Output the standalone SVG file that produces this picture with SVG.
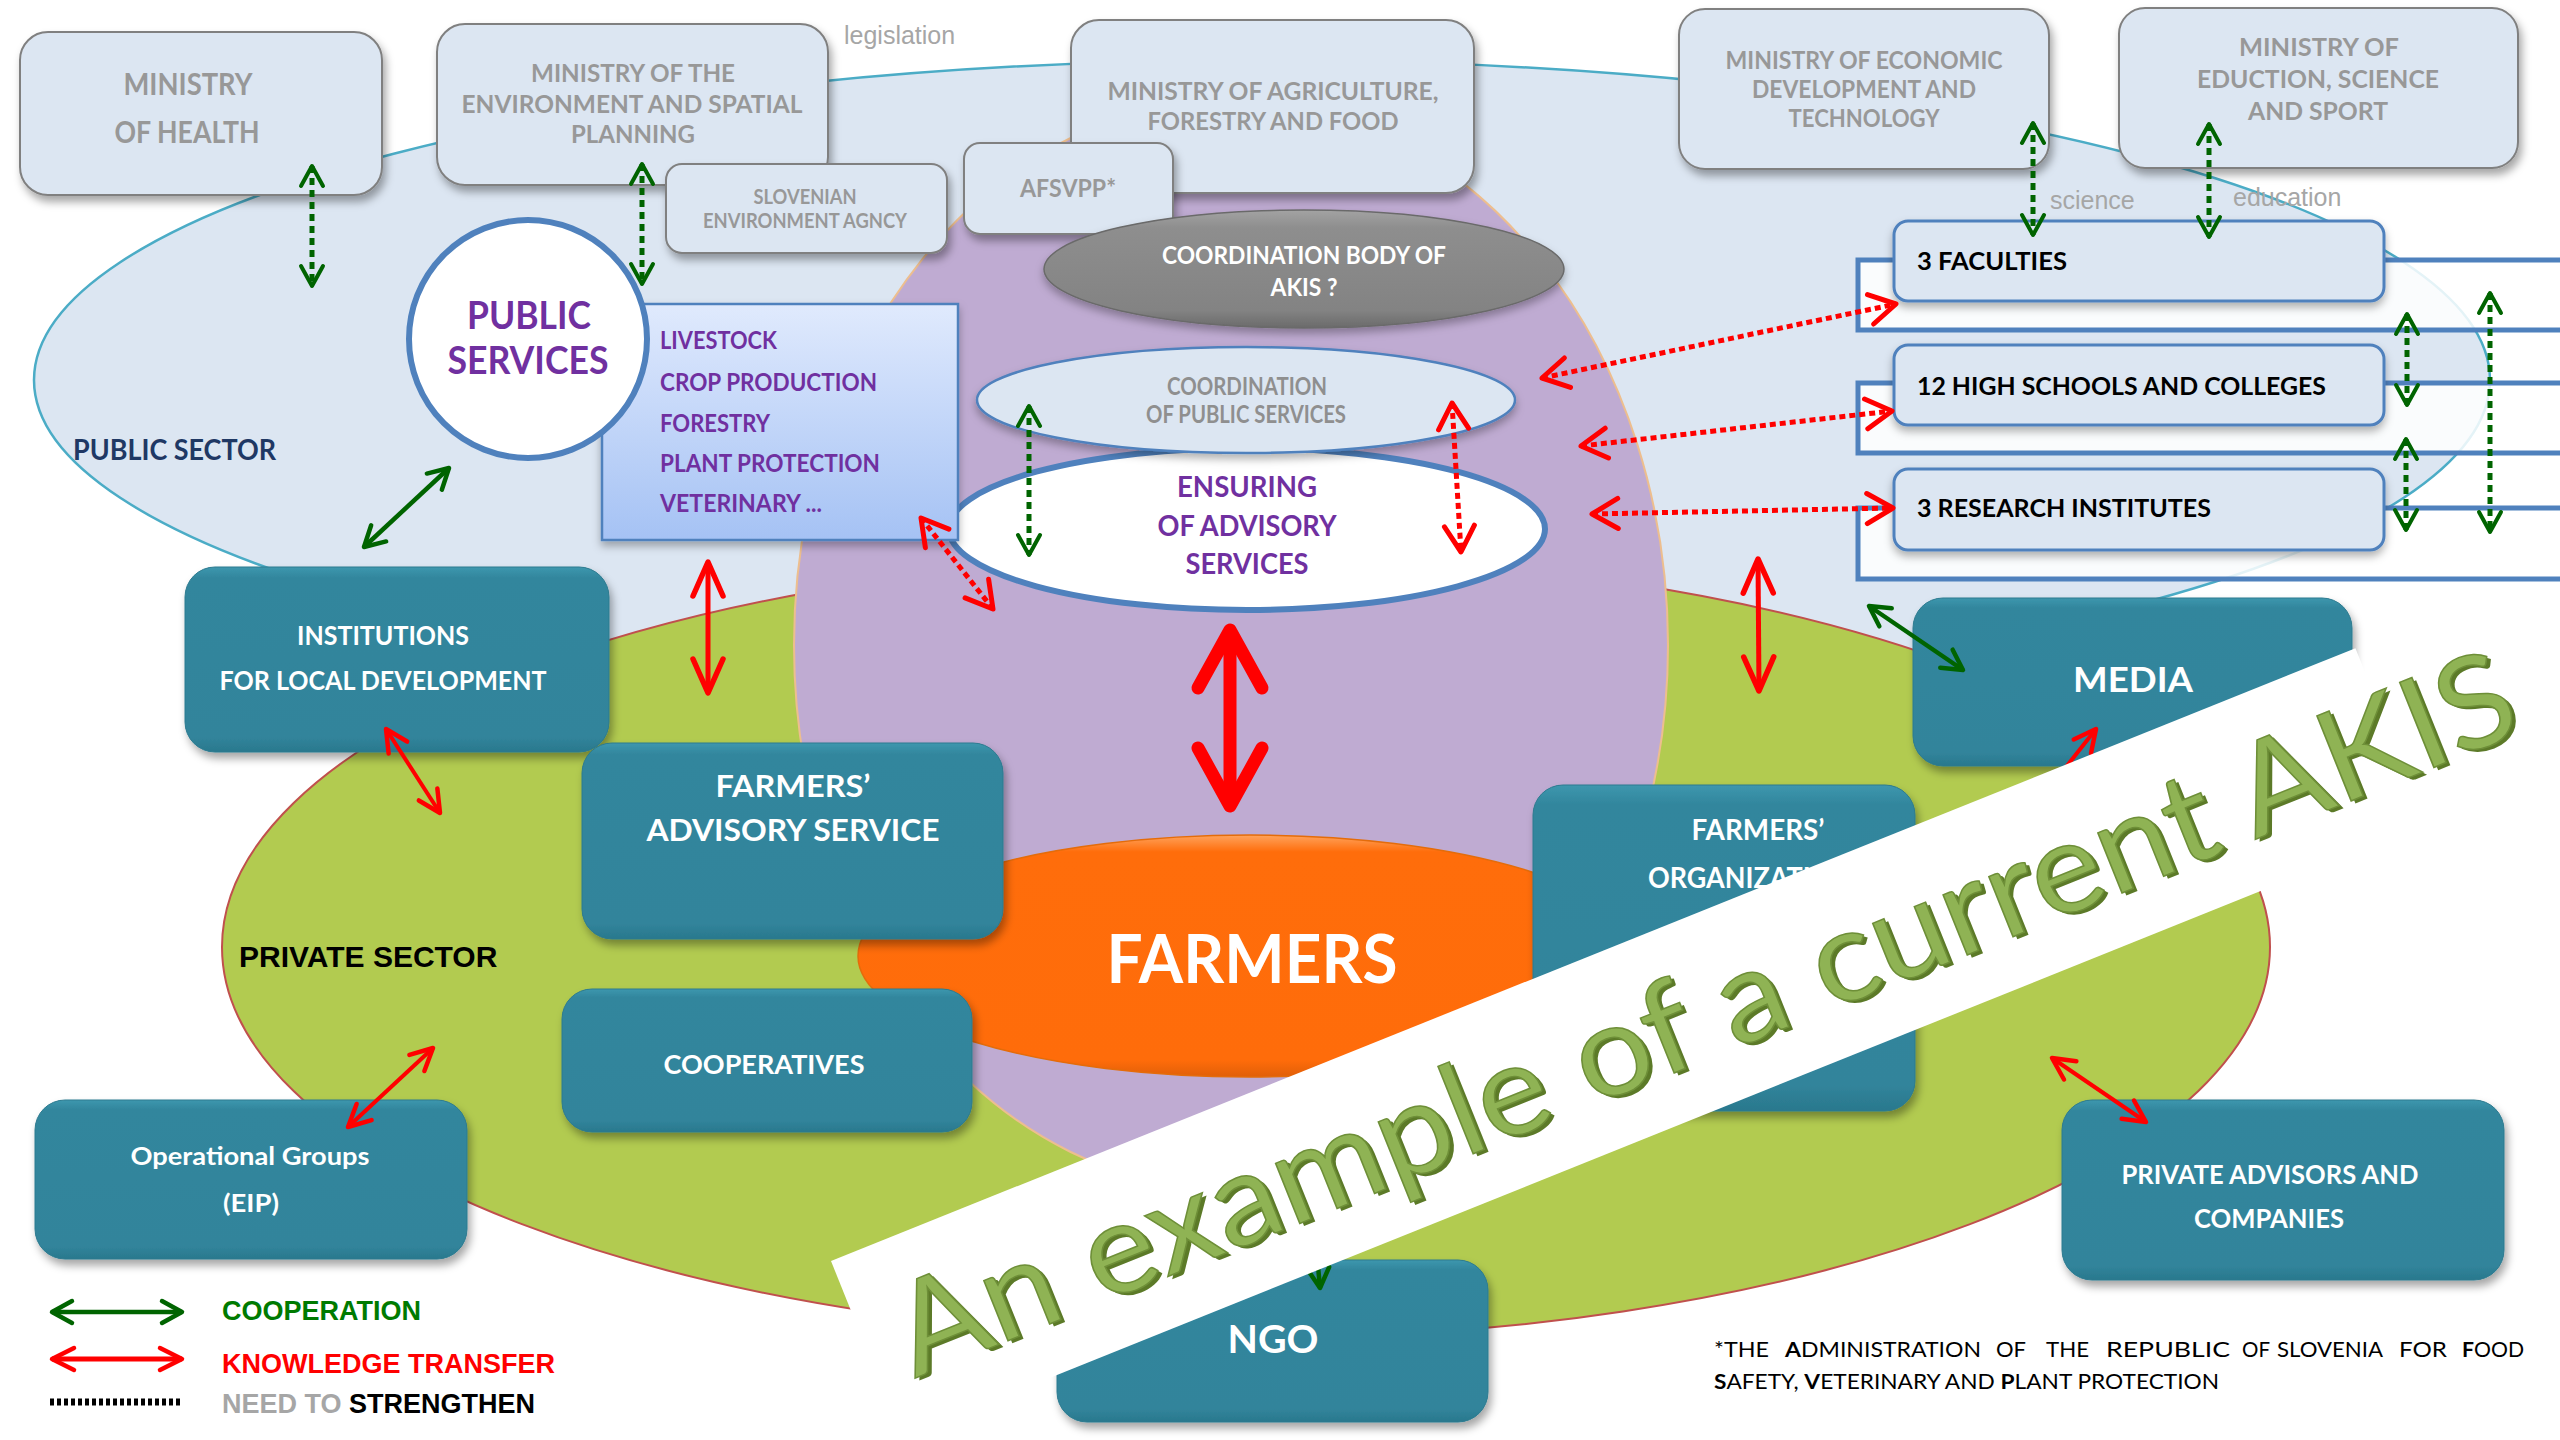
<svg xmlns="http://www.w3.org/2000/svg" width="2560" height="1440" viewBox="0 0 2560 1440">
<defs>
<style>
.cal{font-family:Lato,'Open Sans','Liberation Sans',sans-serif;font-weight:700}
.mt{fill:#989898;text-anchor:middle}
.wt{fill:#ffffff;text-anchor:middle}
.pt{fill:#7030A0}
.min{fill:#DCE6F2;stroke:#808080;stroke-width:2}
.tl{fill:url(#tealG);stroke:#2C7A8F;stroke-width:1}
.lbl{font-family:'Liberation Sans',Arial,sans-serif;fill:#A6A6A6;font-size:25px}
.gd{stroke:#006400;stroke-width:5;stroke-dasharray:7 5;fill:none}
.rd{stroke:#FF0000;stroke-width:5;stroke-dasharray:6 4;fill:none}
.gs{stroke:#006400;stroke-width:4.5;fill:none}
.rs{stroke:#FF0000;stroke-width:5;fill:none}
.rt{stroke:#FF0000;stroke-width:4;fill:none}
.fn{font-family:Lato,'Open Sans',sans-serif;font-weight:400;font-size:21px;fill:#000}
.leg{font-family:'Liberation Sans',Arial,sans-serif;font-weight:700;font-size:27px}
</style>
<filter id="sh" x="-10%" y="-10%" width="125%" height="140%"><feDropShadow dx="3" dy="6" stdDeviation="4" flood-color="#000" flood-opacity="0.35"/></filter>
<filter id="sh2" x="-10%" y="-10%" width="125%" height="140%"><feDropShadow dx="0" dy="5" stdDeviation="4" flood-color="#000" flood-opacity="0.3"/></filter>
<linearGradient id="tealG" x1="0" y1="0" x2="0" y2="1"><stop offset="0" stop-color="#3D97AE"/><stop offset="0.06" stop-color="#32869D"/><stop offset="0.92" stop-color="#31849B"/><stop offset="1" stop-color="#2A788D"/></linearGradient>
<linearGradient id="svG" x1="0" y1="0" x2="0" y2="1"><stop offset="0" stop-color="#E0EAFD"/><stop offset="1" stop-color="#A5C2F4"/></linearGradient>
<linearGradient id="grG" x1="0" y1="0" x2="0" y2="1"><stop offset="0" stop-color="#A3A3A3"/><stop offset="0.15" stop-color="#8E8E8E"/><stop offset="0.85" stop-color="#838383"/><stop offset="1" stop-color="#6A6A6A"/></linearGradient>
<linearGradient id="orG" x1="0" y1="0" x2="0" y2="1"><stop offset="0" stop-color="#FFA35C"/><stop offset="0.07" stop-color="#FF6D0B"/><stop offset="0.93" stop-color="#FF6C0A"/><stop offset="1" stop-color="#E05F08"/></linearGradient>
<marker id="mG" markerUnits="userSpaceOnUse" viewBox="-30 -20 40 40" markerWidth="40" markerHeight="40" orient="auto-start-reverse" overflow="visible"><path d="M-20,-11 L0,0 L-20,11" fill="none" stroke="#006400" stroke-width="4.5" stroke-linecap="round" stroke-linejoin="round"/></marker>
<marker id="mGd" markerUnits="userSpaceOnUse" viewBox="-30 -20 40 40" markerWidth="40" markerHeight="40" orient="auto-start-reverse" overflow="visible"><path d="M-20,-11 L0,0 L-20,11" fill="none" stroke="#006400" stroke-width="4" stroke-linecap="round" stroke-linejoin="round"/></marker>
<marker id="mR" markerUnits="userSpaceOnUse" viewBox="-40 -20 50 40" markerWidth="50" markerHeight="40" orient="auto-start-reverse" overflow="visible"><path d="M-34,-15 L0,0 L-34,15" fill="none" stroke="#FF0000" stroke-width="5.5" stroke-linecap="round" stroke-linejoin="round"/></marker>
<marker id="mRs" markerUnits="userSpaceOnUse" viewBox="-30 -20 40 40" markerWidth="40" markerHeight="40" orient="auto-start-reverse" overflow="visible"><path d="M-22,-11 L0,0 L-22,11" fill="none" stroke="#FF0000" stroke-width="4.5" stroke-linecap="round" stroke-linejoin="round"/></marker>
<marker id="mRd" markerUnits="userSpaceOnUse" viewBox="-30 -20 40 40" markerWidth="40" markerHeight="40" orient="auto-start-reverse" overflow="visible"><path d="M-26,-15 L0,0 L-26,15" fill="none" stroke="#FF0000" stroke-width="5" stroke-linecap="round" stroke-linejoin="round"/></marker>
<marker id="mRb" markerUnits="userSpaceOnUse" viewBox="-70 -40 80 80" markerWidth="80" markerHeight="80" orient="auto-start-reverse" overflow="visible"><path d="M-58,-32 L0,0 L-58,32" fill="none" stroke="#FF0000" stroke-width="13" stroke-linecap="round" stroke-linejoin="round"/></marker>
</defs>
<rect x="0" y="0" width="2560" height="1440" fill="#ffffff"/>

<g id="public-sector">
<ellipse cx="1262" cy="380" rx="1228" ry="320" fill="#DCE6F2" stroke="#4BACC6" stroke-width="2.5"/>
</g>
<g id="private-sector">
<ellipse cx="1246" cy="947" rx="1024" ry="392" fill="#B2CB50" stroke="#C0504D" stroke-width="2"/>
</g>
<g id="purple-core">
<ellipse cx="1231" cy="645" rx="437" ry="545" fill="#BFABD2" stroke="#EDBE8E" stroke-width="2"/>
</g>
<g id="farmers">
<ellipse cx="1250" cy="956" rx="392" ry="121" fill="url(#orG)" stroke="#E46C0A" stroke-width="1.5"/>
<text class="cal wt" x="1252" y="983" font-size="67" textLength="291" lengthAdjust="spacingAndGlyphs">FARMERS</text>
</g>

<g id="faculties">
<rect x="1858" y="260" width="720" height="70" fill="#ffffff" fill-opacity="0.85" stroke="#4F81BD" stroke-width="5"/>
<rect x="1894" y="221" width="490" height="80" rx="14" fill="#DCE6F2" stroke="#4F81BD" stroke-width="3" filter="url(#sh2)"/>
<text class="cal" x="1917" y="270" font-size="25" fill="#000" textLength="150" lengthAdjust="spacingAndGlyphs">3 FACULTIES</text>
</g>
<g id="high-schools">
<rect x="1858" y="383" width="720" height="70" fill="#ffffff" fill-opacity="0.85" stroke="#4F81BD" stroke-width="5"/>
<rect x="1894" y="345" width="490" height="80" rx="14" fill="#DCE6F2" stroke="#4F81BD" stroke-width="3" filter="url(#sh2)"/>
<text class="cal" x="1917" y="395" font-size="25" fill="#000" textLength="409" lengthAdjust="spacingAndGlyphs">12 HIGH SCHOOLS AND COLLEGES</text>
</g>
<g id="research-institutes">
<rect x="1858" y="508" width="720" height="71" fill="#ffffff" fill-opacity="0.85" stroke="#4F81BD" stroke-width="5"/>
<rect x="1894" y="469" width="490" height="81" rx="14" fill="#DCE6F2" stroke="#4F81BD" stroke-width="3" filter="url(#sh2)"/>
<text class="cal" x="1917" y="517" font-size="25" fill="#000" textLength="294" lengthAdjust="spacingAndGlyphs">3 RESEARCH INSTITUTES</text>
</g>

<g id="ministry-health">
<rect class="min" x="20" y="32" width="362" height="163" rx="28" filter="url(#sh)"/>
<text class="cal mt" x="188" y="95" font-size="30" textLength="129" lengthAdjust="spacingAndGlyphs">MINISTRY</text>
<text class="cal mt" x="187" y="143" font-size="30" textLength="145" lengthAdjust="spacingAndGlyphs">OF HEALTH</text>
</g>
<g id="ministry-environment">
<rect class="min" x="437" y="24" width="391" height="161" rx="28" filter="url(#sh)"/>
<text class="cal mt" x="633" y="82" font-size="25" textLength="204" lengthAdjust="spacingAndGlyphs">MINISTRY OF THE</text>
<text class="cal mt" x="632" y="113" font-size="25" textLength="341" lengthAdjust="spacingAndGlyphs">ENVIRONMENT AND SPATIAL</text>
<text class="cal mt" x="633" y="143" font-size="25" textLength="124" lengthAdjust="spacingAndGlyphs">PLANNING</text>
</g>
<g id="environment-agency">
<rect class="min" x="666" y="164" width="281" height="89" rx="16" filter="url(#sh)"/>
<text class="cal mt" x="805" y="204" font-size="21" textLength="103" lengthAdjust="spacingAndGlyphs">SLOVENIAN</text>
<text class="cal mt" x="805" y="228" font-size="21" textLength="204" lengthAdjust="spacingAndGlyphs">ENVIRONMENT AGNCY</text>
</g>
<g id="ministry-agriculture">
<rect class="min" x="1071" y="20" width="403" height="173" rx="28" filter="url(#sh)"/>
<text class="cal mt" x="1273" y="100" font-size="25" textLength="331" lengthAdjust="spacingAndGlyphs">MINISTRY OF AGRICULTURE,</text>
<text class="cal mt" x="1273" y="130" font-size="25" textLength="251" lengthAdjust="spacingAndGlyphs">FORESTRY AND FOOD</text>
</g>
<g id="afsvpp">
<rect class="min" x="964" y="143" width="209" height="91" rx="16" filter="url(#sh)"/>
<text class="cal mt" x="1068" y="197" font-size="24" textLength="96" lengthAdjust="spacingAndGlyphs">AFSVPP*</text>
</g>
<g id="ministry-economic">
<rect class="min" x="1679" y="9" width="370" height="160" rx="26" filter="url(#sh)"/>
<text class="cal mt" x="1864" y="69" font-size="25" textLength="277" lengthAdjust="spacingAndGlyphs">MINISTRY OF ECONOMIC</text>
<text class="cal mt" x="1864" y="98" font-size="25" textLength="224" lengthAdjust="spacingAndGlyphs">DEVELOPMENT AND</text>
<text class="cal mt" x="1864" y="127" font-size="25" textLength="151" lengthAdjust="spacingAndGlyphs">TECHNOLOGY</text>
</g>
<g id="ministry-education">
<rect class="min" x="2119" y="8" width="399" height="160" rx="26" filter="url(#sh)"/>
<text class="cal mt" x="2319" y="56" font-size="25" textLength="160" lengthAdjust="spacingAndGlyphs">MINISTRY OF</text>
<text class="cal mt" x="2318" y="88" font-size="25" textLength="242" lengthAdjust="spacingAndGlyphs">EDUCTION, SCIENCE</text>
<text class="cal mt" x="2318" y="120" font-size="25" textLength="140" lengthAdjust="spacingAndGlyphs">AND SPORT</text>
</g>

<g id="coordination-body">
<ellipse cx="1304" cy="269" rx="260" ry="59" fill="url(#grG)" stroke="#6A6A6A" stroke-width="1.5" filter="url(#sh2)"/>
<text class="cal wt" x="1304" y="264" font-size="24" textLength="284" lengthAdjust="spacingAndGlyphs">COORDINATION BODY OF</text>
<text class="cal wt" x="1304" y="296" font-size="24" textLength="67" lengthAdjust="spacingAndGlyphs">AKIS ?</text>
</g>
<g id="ensuring-advisory">
<ellipse cx="1247" cy="529" rx="298" ry="81" fill="#ffffff" stroke="#4F81BD" stroke-width="6"/>
<text class="cal pt" text-anchor="middle" x="1247" y="497" font-size="28" textLength="140" lengthAdjust="spacingAndGlyphs">ENSURING</text>
<text class="cal pt" text-anchor="middle" x="1247" y="536" font-size="28" textLength="179" lengthAdjust="spacingAndGlyphs">OF ADVISORY</text>
<text class="cal pt" text-anchor="middle" x="1247" y="574" font-size="28" textLength="123" lengthAdjust="spacingAndGlyphs">SERVICES</text>
</g>
<g id="coordination-public">
<ellipse cx="1246" cy="400" rx="269" ry="53" fill="#DCE6F2" stroke="#4F81BD" stroke-width="2.5" filter="url(#sh2)"/>
<text class="cal" text-anchor="middle" fill="#8F8F8F" x="1247" y="395" font-size="24" textLength="160" lengthAdjust="spacingAndGlyphs">COORDINATION</text>
<text class="cal" text-anchor="middle" fill="#8F8F8F" x="1246" y="423" font-size="24" textLength="200" lengthAdjust="spacingAndGlyphs">OF PUBLIC SERVICES</text>
</g>

<g id="services-list">
<rect x="602" y="304" width="356" height="236" fill="url(#svG)" stroke="#4F81BD" stroke-width="2.5" filter="url(#sh2)"/>
<text class="cal pt" x="660" y="349" font-size="25" textLength="117" lengthAdjust="spacingAndGlyphs">LIVESTOCK</text>
<text class="cal pt" x="660" y="391" font-size="25" textLength="217" lengthAdjust="spacingAndGlyphs">CROP PRODUCTION</text>
<text class="cal pt" x="660" y="432" font-size="25" textLength="110" lengthAdjust="spacingAndGlyphs">FORESTRY</text>
<text class="cal pt" x="660" y="472" font-size="25" textLength="220" lengthAdjust="spacingAndGlyphs">PLANT PROTECTION</text>
<text class="cal pt" x="660" y="512" font-size="25" textLength="162" lengthAdjust="spacingAndGlyphs">VETERINARY ...</text>
</g>
<g id="public-services">
<ellipse cx="528" cy="339" rx="119" ry="119" fill="#ffffff" stroke="#4F81BD" stroke-width="6"/>
<text class="cal pt" text-anchor="middle" x="529" y="329" font-size="38" textLength="124" lengthAdjust="spacingAndGlyphs">PUBLIC</text>
<text class="cal pt" text-anchor="middle" x="528" y="374" font-size="38" textLength="161" lengthAdjust="spacingAndGlyphs">SERVICES</text>
</g>

<g id="institutions-local-development">
<rect class="tl" x="185" y="567" width="424" height="185" rx="30" filter="url(#sh)"/>
<text class="cal wt" x="383" y="645" font-size="26" textLength="172" lengthAdjust="spacingAndGlyphs">INSTITUTIONS</text>
<text class="cal wt" x="383" y="690" font-size="26" textLength="327" lengthAdjust="spacingAndGlyphs">FOR LOCAL DEVELOPMENT</text>
</g>
<g id="farmers-advisory-service">
<rect class="tl" x="582" y="743" width="421" height="196" rx="30" filter="url(#sh)"/>
<text class="cal wt" x="793" y="797" font-size="31" textLength="155" lengthAdjust="spacingAndGlyphs">FARMERS’</text>
<text class="cal wt" x="793" y="841" font-size="31" textLength="293" lengthAdjust="spacingAndGlyphs">ADVISORY SERVICE</text>
</g>
<g id="cooperatives">
<rect class="tl" x="562" y="989" width="410" height="143" rx="30" filter="url(#sh)"/>
<text class="cal wt" x="764" y="1074" font-size="26" textLength="201" lengthAdjust="spacingAndGlyphs">COOPERATIVES</text>
</g>
<g id="operational-groups">
<rect class="tl" x="35" y="1100" width="432" height="159" rx="30" filter="url(#sh)"/>
<text class="cal wt" x="250" y="1165" font-size="25" textLength="239" lengthAdjust="spacingAndGlyphs">Operational Groups</text>
<text class="cal wt" x="251" y="1212" font-size="25" textLength="56" lengthAdjust="spacingAndGlyphs">(EIP)</text>
</g>
<g id="ngo">
<rect class="tl" x="1057" y="1260" width="431" height="162" rx="30" filter="url(#sh)"/>
<text class="cal wt" x="1273" y="1353" font-size="39" textLength="91" lengthAdjust="spacingAndGlyphs">NGO</text>
</g>
<g id="media">
<rect class="tl" x="1913" y="598" width="439" height="168" rx="30" filter="url(#sh)"/>
<text class="cal wt" x="2133" y="692" font-size="35" textLength="120" lengthAdjust="spacingAndGlyphs">MEDIA</text>
</g>
<g id="farmers-organizations">
<rect class="tl" x="1533" y="785" width="382" height="326" rx="30" filter="url(#sh)"/>
<text class="cal wt" x="1758" y="840" font-size="29" textLength="133" lengthAdjust="spacingAndGlyphs">FARMERS’</text>
<text class="cal wt" x="1758" y="888" font-size="29" textLength="220" lengthAdjust="spacingAndGlyphs">ORGANIZATIONS</text>
</g>
<g id="private-advisors">
<rect class="tl" x="2062" y="1100" width="442" height="180" rx="30" filter="url(#sh)"/>
<text class="cal wt" x="2270" y="1184" font-size="27" textLength="297" lengthAdjust="spacingAndGlyphs">PRIVATE ADVISORS AND</text>
<text class="cal wt" x="2269" y="1228" font-size="27" textLength="150" lengthAdjust="spacingAndGlyphs">COMPANIES</text>
</g>

<g id="sector-labels">
<text class="cal" x="73" y="460" font-size="28" fill="#1F3864" textLength="203" lengthAdjust="spacingAndGlyphs">PUBLIC SECTOR</text>
<text x="239" y="967" font-family="'Liberation Sans',Arial,sans-serif" font-weight="700" font-size="30" fill="#000">PRIVATE SECTOR</text>
<text class="lbl" x="844" y="44">legislation</text>
<text class="lbl" x="2050" y="209">science</text>
<text class="lbl" x="2233" y="206">education</text>
</g>

<g id="connectors">
<line class="gs" x1="364" y1="547" x2="449" y2="468" marker-start="url(#mG)" marker-end="url(#mG)"/>
<line class="gs" x1="1869" y1="606" x2="1963" y2="670" marker-start="url(#mG)" marker-end="url(#mG)"/>
<line class="gs" x1="1312" y1="1200" x2="1320" y2="1288" marker-end="url(#mG)"/>
<line class="rs" x1="708" y1="562" x2="708" y2="693" marker-start="url(#mR)" marker-end="url(#mR)"/>
<line class="rs" x1="1758" y1="559" x2="1759" y2="691" marker-start="url(#mR)" marker-end="url(#mR)"/>
<line class="rt" x1="386" y1="729" x2="440" y2="813" marker-start="url(#mRs)" marker-end="url(#mRs)"/>
<line class="rt" x1="433" y1="1048" x2="348" y2="1127" marker-start="url(#mRs)" marker-end="url(#mRs)"/>
<line class="rt" x1="2052" y1="1058" x2="2146" y2="1122" marker-start="url(#mRs)" marker-end="url(#mRs)"/>
<line class="rt" x1="2040" y1="800" x2="2096" y2="729" marker-end="url(#mRs)"/>
<line x1="1230" y1="630" x2="1230" y2="806" stroke="#FF0000" stroke-width="13" marker-start="url(#mRb)" marker-end="url(#mRb)"/>
<line class="gd" x1="312" y1="166" x2="312" y2="286" marker-start="url(#mGd)" marker-end="url(#mGd)"/>
<line class="gd" x1="642" y1="164" x2="642" y2="284" marker-start="url(#mGd)" marker-end="url(#mGd)"/>
<line class="gd" x1="1029" y1="406" x2="1029" y2="555" marker-start="url(#mGd)" marker-end="url(#mGd)"/>
<line class="gd" x1="2033" y1="123" x2="2033" y2="235" marker-start="url(#mGd)" marker-end="url(#mGd)"/>
<line class="gd" x1="2209" y1="124" x2="2209" y2="237" marker-start="url(#mGd)" marker-end="url(#mGd)"/>
<line class="gd" x1="2407" y1="314" x2="2407" y2="405" marker-start="url(#mGd)" marker-end="url(#mGd)"/>
<line class="gd" x1="2406" y1="439" x2="2406" y2="530" marker-start="url(#mGd)" marker-end="url(#mGd)"/>
<line class="gd" x1="2490" y1="293" x2="2490" y2="532" marker-start="url(#mGd)" marker-end="url(#mGd)"/>
<line class="rd" x1="1452" y1="403" x2="1461" y2="552" marker-start="url(#mRd)" marker-end="url(#mRd)"/>
<line class="rd" x1="921" y1="518" x2="993" y2="609" marker-start="url(#mRd)" marker-end="url(#mRd)"/>
<line class="rd" x1="1542" y1="378" x2="1896" y2="304" marker-start="url(#mRd)" marker-end="url(#mRd)"/>
<line class="rd" x1="1581" y1="446" x2="1892" y2="411" marker-start="url(#mRd)" marker-end="url(#mRd)"/>
<line class="rd" x1="1592" y1="514" x2="1893" y2="508" marker-start="url(#mRd)" marker-end="url(#mRd)"/>
</g>

<g id="banner" transform="translate(831,1261) rotate(-21.9)">
<rect x="0" y="0" width="1643" height="190" fill="#ffffff"/>
<text x="37" y="144" font-family="Lato,'Open Sans',sans-serif" font-size="128" fill="#5C7A28" textLength="1736" lengthAdjust="spacingAndGlyphs">An example of a current AKIS</text>
<text x="34" y="140" font-family="Lato,'Open Sans',sans-serif" font-size="128" fill="#8FB354" stroke="#6E8F38" stroke-width="1.5" textLength="1736" lengthAdjust="spacingAndGlyphs">An example of a current AKIS</text>
</g>

<g id="legend">
<line class="gs" x1="52" y1="1312" x2="182" y2="1312" stroke-width="5" marker-start="url(#mG)" marker-end="url(#mG)"/>
<line class="rs" x1="52" y1="1359" x2="182" y2="1359" marker-start="url(#mRs)" marker-end="url(#mRs)"/>
<line x1="50" y1="1402" x2="182" y2="1402" stroke="#000" stroke-width="7" stroke-dasharray="4 3"/>
<text class="leg" x="222" y="1320" fill="#007A00">COOPERATION</text>
<text class="leg" x="222" y="1373" fill="#FF0000">KNOWLEDGE TRANSFER</text>
<text class="leg" x="222" y="1413"><tspan fill="#A6A6A6">NEED TO </tspan><tspan fill="#000">STRENGTHEN</tspan></text>
</g>

<g id="footnote">
<text class="fn" x="1714" y="1357" textLength="55" lengthAdjust="spacingAndGlyphs">*THE</text>
<text class="fn" x="1785" y="1357" textLength="196" lengthAdjust="spacingAndGlyphs"><tspan font-weight="700">A</tspan>DMINISTRATION</text>
<text class="fn" x="1996" y="1357" textLength="30" lengthAdjust="spacingAndGlyphs">OF</text>
<text class="fn" x="2046" y="1357" textLength="43" lengthAdjust="spacingAndGlyphs">THE</text>
<text class="fn" x="2106" y="1357" textLength="124" lengthAdjust="spacingAndGlyphs">REPUBLIC</text>
<text class="fn" x="2242" y="1357" textLength="28" lengthAdjust="spacingAndGlyphs">OF</text>
<text class="fn" x="2277" y="1357" textLength="106" lengthAdjust="spacingAndGlyphs">SLOVENIA</text>
<text class="fn" x="2399" y="1357" textLength="48" lengthAdjust="spacingAndGlyphs">FOR</text>
<text class="fn" x="2462" y="1357" textLength="62" lengthAdjust="spacingAndGlyphs"><tspan font-weight="700">F</tspan>OOD</text>
<text class="fn" x="1714" y="1389" textLength="505" lengthAdjust="spacingAndGlyphs"><tspan font-weight="700">S</tspan>AFETY, <tspan font-weight="700">V</tspan>ETERINARY AND <tspan font-weight="700">P</tspan>LANT PROTECTION</text>
</g>
</svg>
